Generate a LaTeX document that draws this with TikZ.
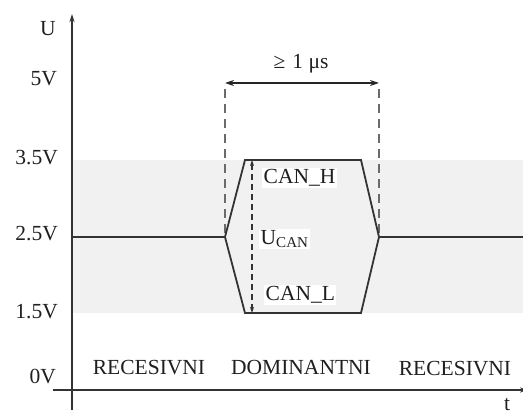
\documentclass[tikz,border=0pt]{standalone}
\usepackage{fontspec}
\setmainfont{Liberation Serif}
\usetikzlibrary{arrows.meta}
\definecolor{band}{HTML}{F1F1F1}
\definecolor{sig}{HTML}{333333}
\definecolor{dsh}{HTML}{6A6A6A}
\tikzset{
  axis/.style={line width=1.6pt, draw=sig},
  signal/.style={line width=1.8pt, draw=sig, line join=miter},
  guide/.style={line width=1.5pt, draw=dsh, dash pattern=on 9pt off 6pt},
  lbl/.style={font=\fontsize{21.5}{23}\selectfont, text=black!88, inner sep=1pt},
  tick/.style={lbl, anchor=east},
  wlbl/.style={lbl, fill=white, anchor=west, inner sep=1.5pt}
}
\begin{document}
\begin{tikzpicture}[x=1pt,y=1pt]
\useasboundingbox (0,0) rectangle (523,418);
\clip (0,0) rectangle (523,418);
% band
\fill[band] (72,105) rectangle (523,258);
% axes
\coordinate (yb) at (72,8);
\coordinate (yt) at (72,404);
\coordinate (xl) at (53,28);
\coordinate (xr) at (528,28);
\draw[axis,-{Stealth[length=8pt,width=5pt]}] (yb) -- (yt);
\draw[axis,-{Stealth[length=8pt,width=5pt]}] (xl) -- (xr);
% dashed guides
\coordinate (ga) at (225,329);
\coordinate (gb) at (225,181);
\coordinate (gc) at (379,329);
\coordinate (gd) at (379,181);
\draw[guide] (ga) -- (gb);
\draw[guide] (gc) -- (gd);
% signal
\coordinate (s0) at (72,181);
\coordinate (s1) at (225,181);
\coordinate (h1) at (245,258);
\coordinate (h2) at (361,258);
\coordinate (s2) at (379,181);
\coordinate (l1) at (245,105);
\coordinate (l2) at (361,105);
\coordinate (s3) at (523,181);
\draw[signal] (s0) -- (s1) -- (h1) -- (h2) -- (s2) -- (s3);
\draw[signal] (s1) -- (l1) -- (l2) -- (s2);
% duration arrow
\coordinate (da) at (225,335);
\coordinate (db) at (379,335);
\draw[line width=1.5pt, draw=black!85, {Stealth[length=9pt,width=6pt]}-{Stealth[length=9pt,width=6pt]}] (da) -- (db);
\node[lbl] (dur) at (301,354) {≥\,\,1 μs};
% U_CAN arrow
\coordinate (ua) at (252,258);
\coordinate (ub) at (252,105);
\draw[line width=1.3pt, draw=black!80, dash pattern=on 6pt off 4pt, {Stealth[length=6pt,width=4pt]}-{Stealth[length=6pt,width=4pt]}] (ua) -- (ub);
\node[wlbl] (canh) at (262,240) {CAN\_H};
\node[wlbl] (ucan) at (259,179) {U\textsubscript{CAN}};
\node[wlbl] (canl) at (264,123) {CAN\_L};
% axis labels
\node[lbl] (U) at (48,389) {U};
\node[tick] (v5) at (58,339) {5V};
\node[tick] (v35) at (59,260) {3.5V};
\node[tick] (v25) at (59,184) {2.5V};
\node[tick] (v15) at (59,106) {1.5V};
\node[tick] (v0) at (57,41) {0V};
\node[lbl, anchor=base, inner sep=0pt] (t) at (507,7) {t};
% states
\node[lbl] (r1) at (149,50) {RECESIVNI};
\node[lbl] (d1) at (301,51) {DOMINANTNI};
\node[lbl] (r2) at (455,49) {RECESIVNI};
\end{tikzpicture}
\end{document}
